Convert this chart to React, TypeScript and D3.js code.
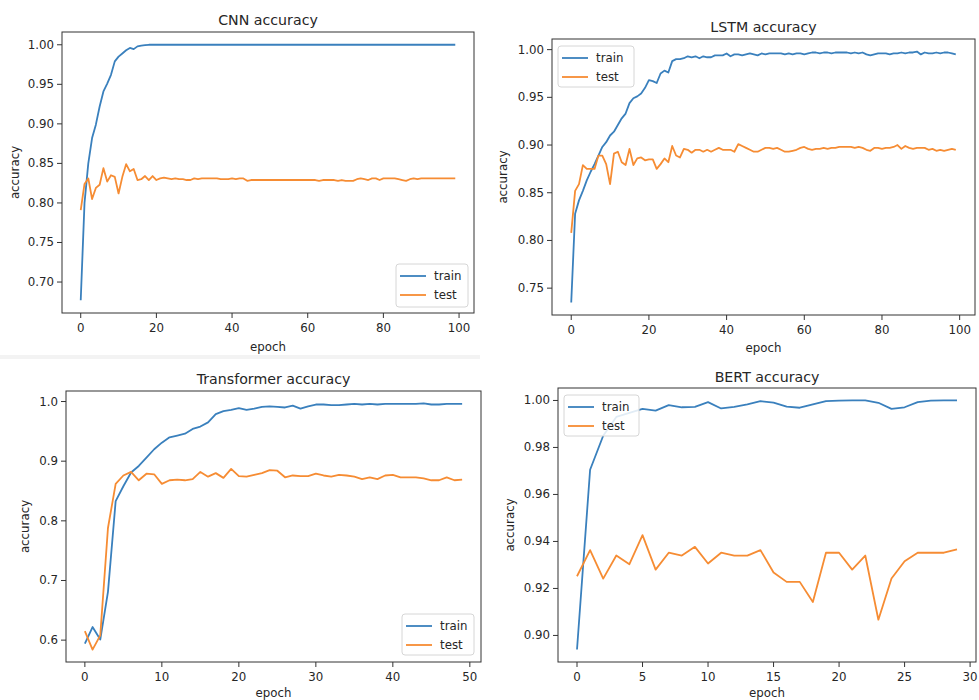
import React from 'react';
import * as d3 from 'd3';

// ---- data ----
const cnnTrain = [
  0.677, 0.8, 0.85, 0.882, 0.899, 0.922, 0.941, 0.951, 0.962, 0.979,
  0.985, 0.989, 0.993, 0.996, 0.9945, 0.998, 0.999, 0.9995, 1.0, 1.0,
  1.0, 1.0, 1.0, 1.0, 1.0, 1.0, 1.0, 1.0, 1.0, 1.0,
  1.0, 1.0, 1.0, 1.0, 1.0, 1.0, 1.0, 1.0, 1.0, 1.0,
  1.0, 1.0, 1.0, 1.0, 1.0, 1.0, 1.0, 1.0, 1.0, 1.0,
  1.0, 1.0, 1.0, 1.0, 1.0, 1.0, 1.0, 1.0, 1.0, 1.0,
  1.0, 1.0, 1.0, 1.0, 1.0, 1.0, 1.0, 1.0, 1.0, 1.0,
  1.0, 1.0, 1.0, 1.0, 1.0, 1.0, 1.0, 1.0, 1.0, 1.0,
  1.0, 1.0, 1.0, 1.0, 1.0, 1.0, 1.0, 1.0, 1.0, 1.0,
  1.0, 1.0, 1.0, 1.0, 1.0, 1.0, 1.0, 1.0, 1.0, 1.0,
];
const cnnTest = [
  0.791, 0.824, 0.831, 0.805, 0.819, 0.823, 0.844, 0.827, 0.835, 0.833,
  0.812, 0.833, 0.849, 0.84, 0.843, 0.829, 0.83, 0.834, 0.829, 0.834,
  0.829, 0.831, 0.832, 0.831, 0.83, 0.831, 0.83, 0.83, 0.829, 0.829,
  0.831, 0.83, 0.831, 0.831, 0.831, 0.831, 0.831, 0.83, 0.83, 0.83,
  0.831, 0.83, 0.831, 0.831, 0.828, 0.829, 0.829, 0.829, 0.829, 0.829,
  0.829, 0.829, 0.829, 0.829, 0.829, 0.829, 0.829, 0.829, 0.829, 0.829,
  0.829, 0.829, 0.829, 0.828, 0.829, 0.829, 0.829, 0.829, 0.828, 0.829,
  0.828, 0.828, 0.828, 0.83, 0.831, 0.83, 0.829, 0.831, 0.831, 0.829,
  0.831, 0.831, 0.831, 0.831, 0.83, 0.829, 0.828, 0.83, 0.831, 0.83,
  0.831, 0.831, 0.831, 0.831, 0.831, 0.831, 0.831, 0.831, 0.831, 0.831,
];
const lstmTrain = [
  0.735, 0.828, 0.842, 0.852, 0.863, 0.872, 0.88, 0.889, 0.898, 0.903,
  0.91, 0.914, 0.921, 0.928, 0.933, 0.944, 0.949, 0.951, 0.954, 0.96,
  0.968, 0.967, 0.965, 0.975, 0.978, 0.976, 0.988, 0.99, 0.99, 0.991,
  0.993, 0.992, 0.993, 0.991, 0.993, 0.992, 0.992, 0.994, 0.994, 0.994,
  0.996, 0.993, 0.995, 0.995, 0.994, 0.995, 0.996, 0.995, 0.994, 0.996,
  0.995, 0.996, 0.996, 0.996, 0.996, 0.995, 0.996, 0.995, 0.996, 0.996,
  0.995, 0.996, 0.997, 0.997, 0.996, 0.997, 0.997, 0.996, 0.997, 0.997,
  0.997, 0.997, 0.996, 0.997, 0.996, 0.997, 0.995, 0.994, 0.995, 0.996,
  0.996, 0.996, 0.995, 0.996, 0.996, 0.997, 0.996, 0.997, 0.997, 0.998,
  0.995, 0.997, 0.996, 0.996, 0.997, 0.996, 0.997, 0.997, 0.996, 0.995,
];
const lstmTest = [
  0.808, 0.852, 0.859, 0.879, 0.875, 0.875, 0.875, 0.889, 0.889, 0.88,
  0.859, 0.891, 0.893, 0.882, 0.879, 0.896, 0.879, 0.886, 0.887, 0.884,
  0.885, 0.885, 0.875, 0.88, 0.886, 0.882, 0.899, 0.889, 0.887, 0.896,
  0.895, 0.892, 0.895, 0.895, 0.893, 0.895, 0.893, 0.895, 0.897, 0.895,
  0.895, 0.895, 0.893, 0.901, 0.899, 0.897, 0.895, 0.893, 0.893, 0.895,
  0.897, 0.897, 0.896, 0.897, 0.895, 0.893, 0.893, 0.894, 0.895, 0.897,
  0.898, 0.896, 0.895, 0.896, 0.896, 0.897, 0.896, 0.897, 0.897, 0.898,
  0.898, 0.898, 0.898, 0.897, 0.898, 0.897, 0.895, 0.894, 0.897, 0.897,
  0.896, 0.897, 0.897, 0.898, 0.9, 0.896, 0.899, 0.897, 0.896, 0.897,
  0.897, 0.897, 0.895, 0.896, 0.894, 0.895, 0.894, 0.895, 0.896, 0.895,
];
const transTrain = [
  0.594, 0.622, 0.601, 0.681, 0.833, 0.858, 0.881, 0.892, 0.906, 0.92,
  0.931, 0.94, 0.943, 0.946, 0.954, 0.958, 0.965, 0.979, 0.984, 0.986,
  0.989, 0.986, 0.988, 0.991, 0.992, 0.991, 0.99, 0.993, 0.988, 0.992,
  0.995, 0.995, 0.994, 0.994, 0.995, 0.996, 0.995, 0.996, 0.995, 0.996,
  0.996, 0.996, 0.996, 0.996, 0.997, 0.995, 0.995, 0.996, 0.996, 0.996,
];
const transTest = [
  0.615, 0.584, 0.608, 0.788, 0.862, 0.876, 0.882, 0.868, 0.879, 0.878,
  0.862, 0.868, 0.869, 0.868, 0.87, 0.882, 0.874, 0.88, 0.872, 0.887,
  0.875, 0.874, 0.877, 0.88, 0.885, 0.884, 0.873, 0.876, 0.875, 0.875,
  0.879, 0.876, 0.874, 0.877, 0.876, 0.874, 0.87, 0.873, 0.87, 0.876,
  0.877, 0.873, 0.873, 0.873, 0.871, 0.868, 0.868, 0.873, 0.868, 0.869,
];
const bertTrain = [
  0.894, 0.9705, 0.985, 0.993, 0.9947, 0.9964, 0.9957, 0.998, 0.9971, 0.9973,
  0.9993, 0.9966, 0.9973, 0.9983, 0.9997, 0.9991, 0.9974, 0.9969, 0.9983, 0.9997,
  0.9999, 1.0, 1.0, 0.999, 0.9964, 0.9971, 0.9993, 0.9999, 1.0, 1.0,
];
const bertTest = [
  0.9252, 0.9363, 0.9242, 0.934, 0.9303, 0.9427, 0.928, 0.9352, 0.934, 0.9377,
  0.9306, 0.9352, 0.934, 0.934, 0.9363, 0.9268, 0.9228, 0.9228, 0.9142, 0.9352,
  0.9352, 0.928, 0.934, 0.9067, 0.9242, 0.9316, 0.9352, 0.9352, 0.9352, 0.9366,
];

const xTicks100 = [0, 20, 40, 60, 80, 100];
const xTicks50 = [0, 10, 20, 30, 40, 50];
const xTicks30 = [0, 5, 10, 15, 20, 25, 30];
const yTicksCnn = [0.7, 0.75, 0.8, 0.85, 0.9, 0.95, 1.0];
const yTicksLstm = [0.75, 0.8, 0.85, 0.9, 0.95, 1.0];
const yTicksTrans = [0.6, 0.7, 0.8, 0.9, 1.0];
const yTicksBert = [0.9, 0.92, 0.94, 0.96, 0.98, 1.0];

const FONT = 'DejaVu Sans, sans-serif';
const TXT = '#262626';
const BLUE = '#3a80bd';
const ORANGE = '#f68c33';

type Box = { x: number; y: number; w: number; h: number };

type PanelProps = {
  title: string;
  box: Box;
  train: number[];
  test: number[];
  xTicks: number[];
  yTicks: number[];
  yFmt: string;
  titleY: number;
  xLabelY: number;
  yLabelX: number;
  legend: Box;
};

// matplotlib-style 5% padding around the data
const padded = (lo: number, hi: number): [number, number] => {
  const m = (hi - lo) * 0.05;
  return [lo - m, hi + m];
};

const Panel = ({ title, box, train, test, xTicks, yTicks, yFmt, titleY, xLabelY, yLabelX, legend }: PanelProps) => {
  const n = train.length;
  const all = train.concat(test);
  const x = d3.scaleLinear().domain(padded(0, n - 1)).range([box.x, box.x + box.w]);
  const y = d3.scaleLinear().domain(padded(d3.min(all)!, d3.max(all)!)).range([box.y + box.h, box.y]);
  const fmt = d3.format(yFmt);
  const line = d3.line<number>().x((_, i) => x(i)).y(d => y(d));
  const bottom = box.y + box.h;

  return (
    <g fontFamily={FONT} fill={TXT}>
      <text x={box.x + box.w / 2} y={titleY} textAnchor="middle" dominantBaseline="central" fontSize={14.2}>
        {title}
      </text>
      <path d={line(train) || ''} fill="none" stroke={BLUE} strokeWidth={1.8} strokeLinejoin="round" />
      <path d={line(test) || ''} fill="none" stroke={ORANGE} strokeWidth={1.8} strokeLinejoin="round" />
      <rect x={box.x} y={box.y} width={box.w} height={box.h} fill="none" stroke="#333" strokeWidth={1} />
      {xTicks.map(t => (
        <g key={'x' + t}>
          <line x1={x(t)} x2={x(t)} y1={bottom} y2={bottom + 5} stroke="#333" />
          <text x={x(t)} y={bottom + 15} textAnchor="middle" dominantBaseline="central" fontSize={11.8}>
            {t}
          </text>
        </g>
      ))}
      {yTicks.map(t => (
        <g key={'y' + t}>
          <line x1={box.x - 5} x2={box.x} y1={y(t)} y2={y(t)} stroke="#333" />
          <text x={box.x - 8} y={y(t)} textAnchor="end" dominantBaseline="central" fontSize={11.8}>
            {fmt(t)}
          </text>
        </g>
      ))}
      <text x={box.x + box.w / 2} y={xLabelY} textAnchor="middle" dominantBaseline="central" fontSize={11.8}>
        epoch
      </text>
      <text
        transform={`translate(${yLabelX},${box.y + box.h / 2}) rotate(-90)`}
        textAnchor="middle"
        dominantBaseline="central"
        fontSize={11.8}
      >
        accuracy
      </text>
      <g>
        <rect x={legend.x} y={legend.y} width={legend.w} height={legend.h} rx={3} fill="#fff" fillOpacity={0.85} stroke="#d6d6d6" />
        {[
          { label: 'train', color: BLUE },
          { label: 'test', color: ORANGE },
        ].map((d, i) => {
          const cy = legend.y + 12 + i * 19;
          return (
            <g key={d.label}>
              <line x1={legend.x + 4} x2={legend.x + 30} y1={cy} y2={cy} stroke={d.color} strokeWidth={1.8} />
              <text x={legend.x + 38} y={cy} dominantBaseline="central" fontSize={11.8}>
                {d.label}
              </text>
            </g>
          );
        })}
      </g>
    </g>
  );
};

export default function App() {
  return (
    <div style={{ position: 'absolute', left: 0, top: 0 }}>
      <svg width={979} height={700} style={{ display: 'block', background: '#fff' }}>
        <rect x={0} y={355} width={480} height={4} fill="#f3f3f3" />
        <Panel
          title="CNN accuracy"
          box={{ x: 62, y: 32, w: 412, h: 281 }}
          train={cnnTrain}
          test={cnnTest}
          xTicks={xTicks100}
          yTicks={yTicksCnn}
          yFmt=".2f"
          titleY={20}
          xLabelY={347}
          yLabelX={15}
          legend={{ x: 396, y: 264, w: 72, h: 43 }}
        />
        <Panel
          title="LSTM accuracy"
          box={{ x: 552, y: 39, w: 423, h: 276 }}
          train={lstmTrain}
          test={lstmTest}
          xTicks={xTicks100}
          yTicks={yTicksLstm}
          yFmt=".2f"
          titleY={27}
          xLabelY={348}
          yLabelX={503}
          legend={{ x: 558, y: 46, w: 76, h: 41 }}
        />
        <Panel
          title="Transformer accuracy"
          box={{ x: 66, y: 391, w: 415, h: 271 }}
          train={transTrain}
          test={transTest}
          xTicks={xTicks50}
          yTicks={yTicksTrans}
          yFmt=".1f"
          titleY={379}
          xLabelY={693}
          yLabelX={25}
          legend={{ x: 402, y: 614, w: 72, h: 41 }}
        />
        <Panel
          title="BERT accuracy"
          box={{ x: 558, y: 388, w: 418, h: 274 }}
          train={bertTrain}
          test={bertTest}
          xTicks={xTicks30}
          yTicks={yTicksBert}
          yFmt=".2f"
          titleY={377}
          xLabelY={693}
          yLabelX={510}
          legend={{ x: 564, y: 395, w: 75, h: 41 }}
        />
      </svg>
    </div>
  );
}
